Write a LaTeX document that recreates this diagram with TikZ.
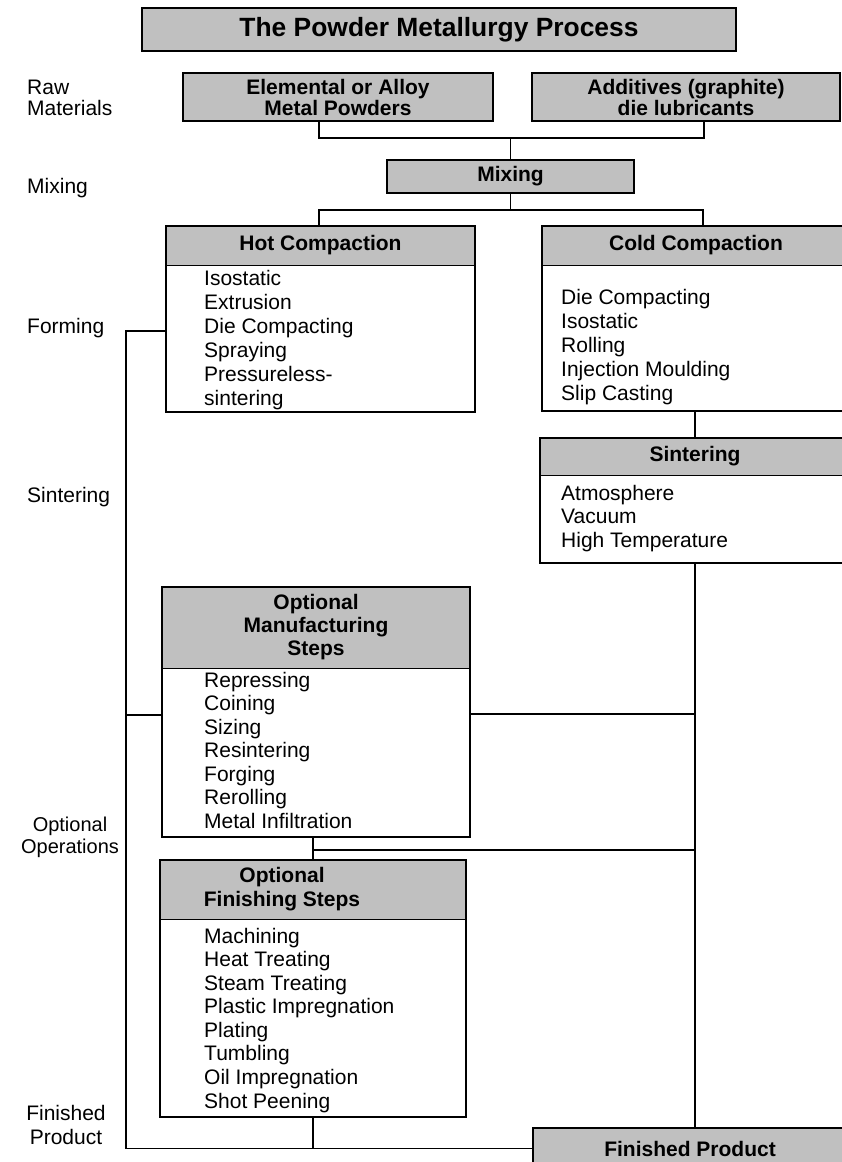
\documentclass[tikz,border=0pt]{standalone}
\usepackage{fontspec}
\setmainfont{Liberation Sans}
\usepackage{tikz}
\usetikzlibrary{positioning,calc}
\definecolor{boxgray}{HTML}{C0C0C0}
\tikzset{
  blkg/.style={rectangle,draw=black,line width=2pt,fill=boxgray,anchor=north west,
    inner sep=0pt,outer sep=0pt,align=center,font=\bfseries\fontsize{21}{21}\selectfont},
  blkh/.style={rectangle,draw=black,line width=1pt,fill=boxgray,anchor=north west,
    inner sep=0pt,outer sep=0pt,align=center,font=\bfseries\fontsize{21}{23}\selectfont},
  blkw/.style={rectangle,fill=white,anchor=north west,inner sep=0pt,outer sep=0pt},
  boxframe/.style={draw=black,line width=2pt},
  itm/.style={anchor=base west,inner sep=0pt,font=\fontsize{21}{24}\selectfont},
  stg/.style={inner sep=0pt,font=\fontsize{21}{21}\selectfont},
  ln/.style={draw=black,line width=1.8pt},
}
\begin{document}
\begin{tikzpicture}[x=1pt,y=-1pt]
  \useasboundingbox (0,0) rectangle (841,1162);
  % title
  \node[blkg,font=\bfseries\fontsize{26.4}{30}\selectfont,minimum width=594pt,minimum height=43pt] (title) at (142,8) {The Powder Metallurgy Process};
  % stage labels on the left
  \node[stg,anchor=west,align=left] (sraw) at (27,98) {Raw\\Materials};
  \node[stg,anchor=base west] (smix) at (27,193) {Mixing};
  \node[stg,anchor=base west] (sform) at (27,333) {Forming};
  \node[stg,anchor=base west] (ssint) at (27,502) {Sintering};
  \node[stg,align=center,font=\fontsize{20}{22}\selectfont] (sopt) at (70,837) {Optional\\Operations};
  \node[stg,align=center,font=\fontsize{21}{24}\selectfont] (sfin) at (66,1125) {Finished\\Product};
  % raw materials and mixing
  \node[blkg,minimum width=310pt,minimum height=48pt] (elem) at (183,73) {Elemental or Alloy\\Metal Powders};
  \node[blkg,minimum width=308pt,minimum height=48pt] (add) at (532,73) {Additives (graphite)\\die lubricants};
  \node[blkg,minimum width=247pt,minimum height=33pt] (mix) at (387,160) {Mixing};
  % hot compaction
  \node[blkw,minimum width=309pt,minimum height=186pt] (hotb) at (166,226) {};
  \node[blkh,minimum width=309pt,minimum height=39pt] (hot) at (166,226) {Hot Compaction};
  \draw[boxframe] (hot.north west) rectangle (hotb.south east);
  \foreach \t [count=\i from 0] in {Isostatic,Extrusion,Die Compacting,Spraying,Pressureless-,sintering}
    \node[itm] (hot\i) at (204,285+24*\i) {\t};
  % cold compaction
  \node[blkw,minimum width=308pt,minimum height=185pt] (coldb) at (542,226) {};
  \node[blkh,minimum width=308pt,minimum height=39pt] (cold) at (542,226) {Cold Compaction};
  \draw[boxframe] (cold.north west) rectangle (coldb.south east);
  \foreach \t [count=\i from 0] in {Die Compacting,Isostatic,Rolling,Injection Moulding,Slip Casting}
    \node[itm] (cold\i) at (561,304+24*\i) {\t};
  % sintering
  \node[blkw,minimum width=310pt,minimum height=125pt] (sintb) at (540,438) {};
  \node[blkh,minimum width=310pt,minimum height=37pt] (sint) at (540,438) {Sintering};
  \draw[boxframe] (sint.north west) rectangle (sintb.south east);
  \foreach \t [count=\i from 0] in {Atmosphere,Vacuum,High Temperature}
    \node[itm] (sint\i) at (561,500+23.5*\i) {\t};
  % optional manufacturing steps
  \node[blkw,minimum width=308pt,minimum height=250pt] (manb) at (162,587) {};
  \node[blkh,minimum width=308pt,minimum height=81pt] (man) at (162,587) {Optional\\Manufacturing\\Steps};
  \draw[boxframe] (man.north west) rectangle (manb.south east);
  \foreach \t [count=\i from 0] in {Repressing,Coining,Sizing,Resintering,Forging,Rerolling,Metal Infiltration}
    \node[itm] (man\i) at (204,687+23.5*\i) {\t};
  % optional finishing steps
  \node[blkw,minimum width=306pt,minimum height=257pt] (finb) at (160,860) {};
  \node[blkh,minimum width=306pt,minimum height=59pt] (finh) at (160,860) {};
  \node[inner sep=0pt,align=center,font=\bfseries\fontsize{21}{24}\selectfont] (fint) at (282,889) {Optional\\Finishing Steps};
  \draw[boxframe] (finh.north west) rectangle (finb.south east);
  \foreach \t [count=\i from 0] in {Machining,Heat Treating,Steam Treating,Plastic Impregnation,Plating,Tumbling,Oil Impregnation,Shot Peening}
    \node[itm] (fin\i) at (204,943+23.57*\i) {\t};
  % finished product
  \node[blkg,minimum width=314pt,minimum height=41pt] (fin) at (533,1128) {Finished Product};
  % connectors, top part
  \coordinate (ja) at (319,138);
  \coordinate (jb) at (704,138);
  \draw[ln] (elem.south -| ja) -- (ja) -- (jb) -- (add.south -| jb);
  \draw[ln] (mix.north) -- (mix.north |- ja);
  \coordinate (jc) at (319,210);
  \coordinate (jd) at (703,210);
  \draw[ln] (mix.south) -- (mix.south |- jc);
  \draw[ln] (hot.north -| jc) -- (jc) -- (jd) -- (cold.north -| jd);
  \draw[ln] (sint.north |- coldb.south) -- (sint.north);
  % left bus
  \coordinate (la) at (126,331);
  \draw[ln] (hotb.west |- la) -- (la) -- (la |- fin.west) -- (fin.west);
  \coordinate (lb) at (126,715);
  \draw[ln] (lb) -- (lb -| manb.west);
  % right bus
  \draw[ln] (sintb.south) -- (sintb.south |- fin.north);
  \coordinate (ra) at (695,714);
  \draw[ln] (manb.east |- ra) -- (ra);
  \draw[ln] (finh.north |- manb.south) -- (finh.north);
  \coordinate (rb) at (695,850);
  \draw[ln] (finh.north |- rb) -- (rb);
  \draw[ln] (finb.south) -- (finb.south |- fin.west);
\end{tikzpicture}
\end{document}
